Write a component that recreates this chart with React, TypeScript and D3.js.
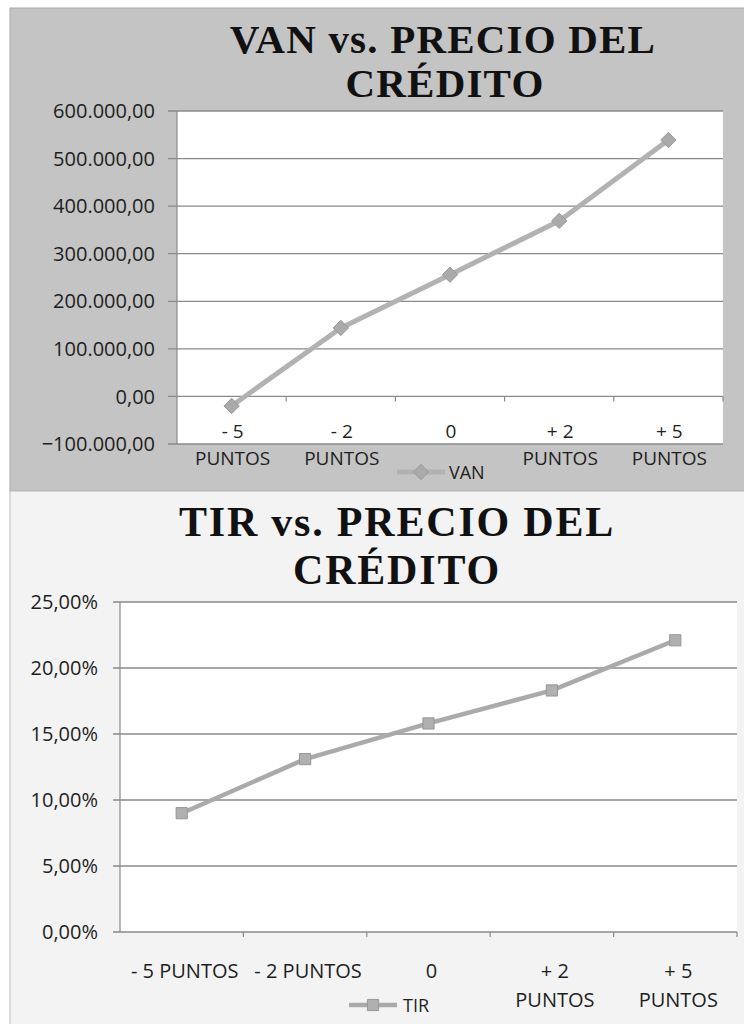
import React from "react";
import * as d3 from "d3";

// ---- data ----
const categories = ["- 5 PUNTOS", "- 2 PUNTOS", "0", "+ 2 PUNTOS", "+ 5 PUNTOS"];
const vanValues = [-20000, 144000, 256000, 369000, 539000];
const tirValues = [0.09, 0.131, 0.158, 0.183, 0.221];
const vanTicks = [-100000, 0, 100000, 200000, 300000, 400000, 500000, 600000];
const tirTicks = [0, 0.05, 0.1, 0.15, 0.2, 0.25];
const vanTickLines = [["- 5", "PUNTOS"], ["- 2", "PUNTOS"], ["0"], ["+ 2", "PUNTOS"], ["+ 5", "PUNTOS"]];
const tirTickLines = [["- 5 PUNTOS"], ["- 2 PUNTOS"], ["0"], ["+ 2", "PUNTOS"], ["+ 5", "PUNTOS"]];
const vanTitle = ["VAN vs. PRECIO DEL", "CRÉDITO"];
const tirTitle = ["TIR vs. PRECIO DEL", "CRÉDITO"];
const vanLegend = "VAN";
const tirLegend = "TIR";

const loc = d3.formatLocale({ decimal: ",", thousands: ".", grouping: [3], currency: ["", ""] });
const fmtVan = loc.format(",.2f");
const fmtTir = loc.format(".2%");

const SANS = "'Open Sans', 'Noto Sans', sans-serif";
const SERIF = "'Liberation Serif', 'DejaVu Serif', serif";
const TXT = "#1e1e1e";

export default function App() {
  // ---- top chart scales ----
  const x1 = d3.scaleBand<string>().domain(categories).range([177, 723]).paddingInner(0).paddingOuter(0);
  const y1 = d3.scaleLinear().domain([-100000, 600000]).range([444, 111]);
  const line1 = d3
    .line<number>()
    .x((_, i) => (x1(categories[i]) as number) + x1.bandwidth() / 2)
    .y((d) => y1(d));

  // ---- bottom chart scales ----
  const x2 = d3.scaleBand<string>().domain(categories).range([120, 737]).paddingInner(0).paddingOuter(0);
  const y2 = d3.scaleLinear().domain([0, 0.25]).range([932, 602]);
  const line2 = d3
    .line<number>()
    .x((_, i) => (x2(categories[i]) as number) + x2.bandwidth() / 2)
    .y((d) => y2(d));

  const diamond = d3.symbol().type(d3.symbolDiamond2).size(150)();
  const square = d3.symbol().type(d3.symbolSquare2).size(160)();

  const [p1l, p1r] = x1.range();
  const [p2l, p2r] = x2.range();

  return (
    <svg width={744} height={1024} style={{ position: "absolute", left: 0, top: 0, background: "#fff" }}>
      {/* backgrounds */}
      <rect x={10} y={8} width={740} height={483} fill="#c4c4c4" stroke="#a8a8a8" strokeWidth={1} />
      <rect x={10} y={491} width={740} height={540} fill="#f3f3f3" stroke="#bdbdbd" strokeWidth={1} />

      {/* ===== TOP CHART ===== */}
      <g fontFamily={SERIF} fontWeight="bold" fill="#111" textAnchor="middle" fontSize={41} letterSpacing={1.2}>
        <text x={443} y={53}>{vanTitle[0]}</text>
        <text x={445} y={97}>{vanTitle[1]}</text>
      </g>
      <rect x={p1l} y={y1(600000)} width={p1r - p1l} height={y1(-100000) - y1(600000)} fill="#ffffff" />
      {vanTicks.map((t) => (
        <line key={"g1" + t} x1={168} x2={p1r} y1={y1(t)} y2={y1(t)} stroke="#8a8a8a" strokeWidth={1.3} />
      ))}
      <line x1={p1l} x2={p1l} y1={y1(600000)} y2={y1(-100000)} stroke="#8a8a8a" strokeWidth={1.2} />
      {categories.map((c, i) => (
        <line key={"t1" + i} x1={(x1(c) as number) + x1.bandwidth()} x2={(x1(c) as number) + x1.bandwidth()} y1={y1(0)} y2={y1(0) + 5} stroke="#8a8a8a" strokeWidth={1.2} />
      ))}
      <g fontFamily={SANS} fontSize={20} fill={TXT} textAnchor="end">
        {vanTicks.map((t) => (
          <text key={"l1" + t} x={155} y={y1(t)} dy="0.36em">{fmtVan(t)}</text>
        ))}
      </g>
      <g fontFamily={SANS} fontSize={19} fill={TXT} textAnchor="middle">
        {categories.map((c, i) => (
          <text key={"c1" + i} x={(x1(c) as number) + x1.bandwidth() / 2 + 1} y={438}>
            {vanTickLines[i].map((ln, j) => (
              <tspan key={j} x={(x1(c) as number) + x1.bandwidth() / 2 + 1} y={438 + j * 27}>{ln}</tspan>
            ))}
          </text>
        ))}
      </g>
      <path d={line1(vanValues) || ""} fill="none" stroke="#b2b2b2" strokeWidth={5} strokeLinejoin="round" />
      {vanValues.map((v, i) => (
        <path key={"m1" + i} d={diamond || ""} transform={`translate(${(x1(categories[i]) as number) + x1.bandwidth() / 2},${y1(v)})`} fill="#aaaaaa" stroke="#999999" strokeWidth={1} />
      ))}
      {/* legend */}
      <line x1={397} x2={445} y1={472} y2={472} stroke="#b2b2b2" strokeWidth={5} />
      <path d={diamond || ""} transform="translate(421,472)" fill="#aaaaaa" stroke="#999999" strokeWidth={1} />
      <text x={449} y={479} fontFamily={SANS} fontSize={18} fill={TXT}>{vanLegend}</text>

      {/* ===== BOTTOM CHART ===== */}
      <g fontFamily={SERIF} fontWeight="bold" fill="#111" textAnchor="middle" fontSize={42} letterSpacing={1.8}>
        <text x={397} y={536}>{tirTitle[0]}</text>
        <text x={397} y={584}>{tirTitle[1]}</text>
      </g>
      <rect x={p2l} y={y2(0.25)} width={p2r - p2l} height={y2(0) - y2(0.25)} fill="#ffffff" />
      {tirTicks.map((t) => (
        <line key={"g2" + t} x1={113} x2={p2r} y1={y2(t)} y2={y2(t)} stroke="#8a8a8a" strokeWidth={1.3} />
      ))}
      <line x1={p2l} x2={p2l} y1={y2(0.25)} y2={y2(0)} stroke="#8a8a8a" strokeWidth={1.2} />
      {categories.map((c, i) => (
        <line key={"t2" + i} x1={(x2(c) as number) + x2.bandwidth()} x2={(x2(c) as number) + x2.bandwidth()} y1={y2(0)} y2={y2(0) + 5} stroke="#8a8a8a" strokeWidth={1.2} />
      ))}
      <g fontFamily={SANS} fontSize={20} fill={TXT} textAnchor="end">
        {tirTicks.map((t) => (
          <text key={"l2" + t} x={98} y={y2(t)} dy="0.36em">{fmtTir(t)}</text>
        ))}
      </g>
      <g fontFamily={SANS} fontSize={20} fill={TXT} textAnchor="middle">
        {categories.map((c, i) => (
          <text key={"c2" + i} x={(x2(c) as number) + x2.bandwidth() / 2 + 3} y={978}>
            {tirTickLines[i].map((ln, j) => (
              <tspan key={j} x={(x2(c) as number) + x2.bandwidth() / 2 + 3} y={978 + j * 29}>{ln}</tspan>
            ))}
          </text>
        ))}
      </g>
      <path d={line2(tirValues) || ""} fill="none" stroke="#aaaaaa" strokeWidth={4.5} strokeLinejoin="round" />
      {tirValues.map((v, i) => (
        <path key={"m2" + i} d={square || ""} transform={`translate(${(x2(categories[i]) as number) + x2.bandwidth() / 2},${y2(v)})`} fill="#b0b0b0" stroke="#979797" strokeWidth={1} />
      ))}
      {/* legend */}
      <line x1={349} x2={397} y1={1005} y2={1005} stroke="#aaaaaa" strokeWidth={4.5} />
      <path d={square || ""} transform="translate(373,1005)" fill="#b0b0b0" stroke="#979797" strokeWidth={1} />
      <text x={403} y={1012} fontFamily={SANS} fontSize={18} fill={TXT}>{tirLegend}</text>
    </svg>
  );
}
